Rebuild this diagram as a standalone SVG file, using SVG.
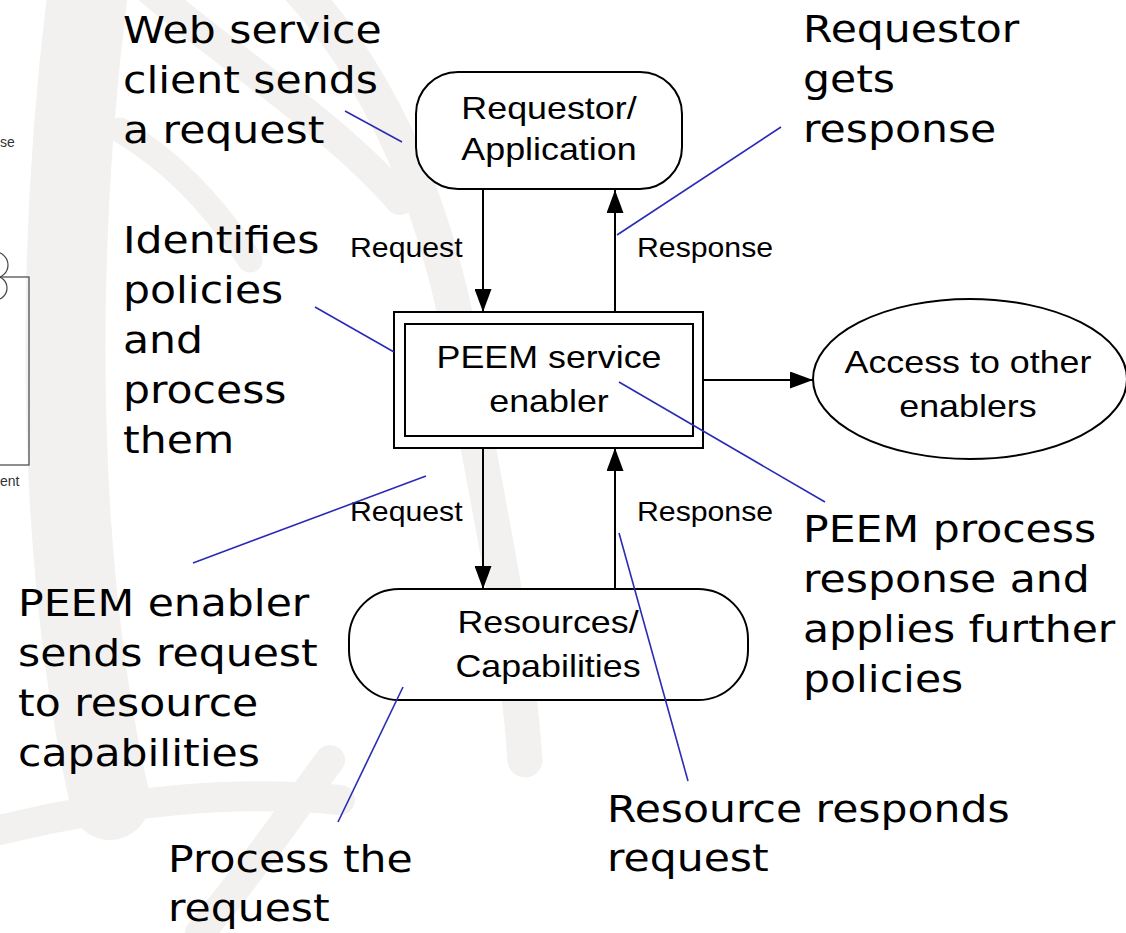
<svg xmlns="http://www.w3.org/2000/svg" width="1126" height="933" viewBox="0 0 1126 933">
  <style>
    .wm { fill: none; stroke: #f2f1ef; stroke-linecap: round; }
    .ann { font-family: "DejaVu Sans", Verdana, sans-serif; font-size: 38px; fill: #000; }
    .lbl { font-family: "Liberation Sans", Arial, sans-serif; font-size: 32px; fill: #000; text-anchor: middle; }
    .elbl { font-family: "Liberation Sans", Arial, sans-serif; font-size: 28px; fill: #000; }
    .node { fill: #fff; stroke: #000; stroke-width: 2; }
    .edge { fill: none; stroke: #000; stroke-width: 2; }
    .callout { fill: none; stroke: #2b2bb5; stroke-width: 1.6; }
    .frag { fill: none; stroke: #444; stroke-width: 1.2; }
    .fragtxt { font-family: "Liberation Sans", Arial, sans-serif; font-size: 14px; fill: #333; }
  </style>
  <defs>
    <marker id="arrow" markerUnits="userSpaceOnUse" markerWidth="23" markerHeight="17" viewBox="0 0 23 17" refX="23" refY="8.5" orient="auto">
      <path d="M0,0 L23,8.5 L0,17 Z" fill="#000"/>
    </marker>
  </defs>

  <rect width="1126" height="933" fill="#fff"/>

  <!-- faint globe watermark -->
  <g id="watermark">
    <path class="wm" stroke-width="80" d="M88,-10 C55,250 55,560 110,800"/>
    <path class="wm" stroke-width="30" d="M150,-10 C230,60 330,120 400,200"/>
    <path class="wm" stroke-width="35" d="M300,-10 C400,100 450,250 470,400 C490,520 515,620 525,760"/>
    <path class="wm" stroke-width="30" d="M0,830 C120,800 240,790 340,800"/>
    <path class="wm" stroke-width="30" d="M200,933 C260,860 300,800 330,760"/>
    <path class="wm" stroke-width="25" d="M120,130 C170,160 210,200 250,260"/>
  </g>

  <!-- partial fragments at the left edge -->
  <g id="left-fragment">
    <text class="fragtxt" x="0" y="147">se</text>
    <circle class="frag" cx="-5" cy="265" r="13"/>
    <circle class="frag" cx="-5" cy="288" r="12"/>
    <rect class="frag" x="-20" y="277" width="49" height="188"/>
    <text class="fragtxt" x="0" y="486">ent</text>
  </g>

  <!-- connectors -->
  <g id="connectors">
    <line class="edge" x1="483" y1="190" x2="483" y2="312" marker-end="url(#arrow)"/>
    <line class="edge" x1="615" y1="312" x2="615" y2="190" marker-end="url(#arrow)"/>
    <line class="edge" x1="483" y1="448" x2="483" y2="589" marker-end="url(#arrow)"/>
    <line class="edge" x1="615" y1="589" x2="615" y2="448" marker-end="url(#arrow)"/>
    <line class="edge" x1="703" y1="380" x2="813" y2="380" marker-end="url(#arrow)"/>
    <text class="elbl" transform="translate(350 257) scale(1.08 1)">Request</text>
    <text class="elbl" transform="translate(637 257) scale(1.08 1)">Response</text>
    <text class="elbl" transform="translate(350 521) scale(1.08 1)">Request</text>
    <text class="elbl" transform="translate(637 521) scale(1.08 1)">Response</text>
  </g>

  <!-- nodes -->
  <g id="requestor">
    <rect class="node" x="416" y="72" width="266" height="117" rx="42" ry="42"/>
    <text class="lbl" transform="translate(549 0) scale(1.12 1)"><tspan x="0" y="119">Requestor/</tspan><tspan x="0" y="160">Application</tspan></text>
  </g>

  <g id="peem">
    <rect class="node" x="394" y="312" width="309" height="136"/>
    <rect class="node" x="405" y="324" width="288" height="112"/>
    <text class="lbl" transform="translate(549 0) scale(1.12 1)"><tspan x="0" y="368">PEEM service</tspan><tspan x="0" y="412">enabler</tspan></text>
  </g>

  <g id="resources">
    <rect class="node" x="349" y="589" width="399" height="111" rx="50" ry="50"/>
    <text class="lbl" transform="translate(548 0) scale(1.12 1)"><tspan x="0" y="633">Resources/</tspan><tspan x="0" y="677">Capabilities</tspan></text>
  </g>

  <g id="other-enablers">
    <ellipse class="node" cx="970" cy="379" rx="157" ry="80"/>
    <text class="lbl" transform="translate(968 0) scale(1.12 1)"><tspan x="0" y="373">Access to other</tspan><tspan x="0" y="417">enablers</tspan></text>
  </g>

  <!-- callout lines -->
  <g id="callouts">
    <line class="callout" x1="345" y1="111" x2="402" y2="142"/>
    <line class="callout" x1="617" y1="235" x2="781" y2="127"/>
    <line class="callout" x1="315" y1="307" x2="394" y2="352"/>
    <line class="callout" x1="619" y1="382" x2="825" y2="502"/>
    <line class="callout" x1="426" y1="476" x2="193" y2="563"/>
    <line class="callout" x1="403" y1="687" x2="338" y2="822"/>
    <line class="callout" x1="619" y1="533" x2="688" y2="781"/>
  </g>

  <!-- annotations -->
  <g id="notes">
    <text class="ann" transform="translate(123 0) scale(1.12 1)"><tspan x="0" y="43">Web service</tspan><tspan x="0" y="93">client sends</tspan><tspan x="0" y="143">a request</tspan></text>
    <text class="ann" transform="translate(803 0) scale(1.12 1)"><tspan x="0" y="42">Requestor</tspan><tspan x="0" y="92">gets</tspan><tspan x="0" y="142">response</tspan></text>
    <text class="ann" transform="translate(123 0) scale(1.12 1)"><tspan x="0" y="253">Identifies</tspan><tspan x="0" y="303">policies</tspan><tspan x="0" y="353">and</tspan><tspan x="0" y="403">process</tspan><tspan x="0" y="453">them</tspan></text>
    <text class="ann" transform="translate(18 0) scale(1.12 1)"><tspan x="0" y="616">PEEM enabler</tspan><tspan x="0" y="666">sends request</tspan><tspan x="0" y="716">to resource</tspan><tspan x="0" y="766">capabilities</tspan></text>
    <text class="ann" transform="translate(168 0) scale(1.12 1)"><tspan x="0" y="872">Process the</tspan><tspan x="0" y="921">request</tspan></text>
    <text class="ann" transform="translate(607 0) scale(1.12 1)"><tspan x="0" y="822">Resource responds</tspan><tspan x="0" y="871">request</tspan></text>
    <text class="ann" transform="translate(803 0) scale(1.12 1)"><tspan x="0" y="542">PEEM process</tspan><tspan x="0" y="592">response and</tspan><tspan x="0" y="642">applies further</tspan><tspan x="0" y="692">policies</tspan></text>
  </g>
</svg>
